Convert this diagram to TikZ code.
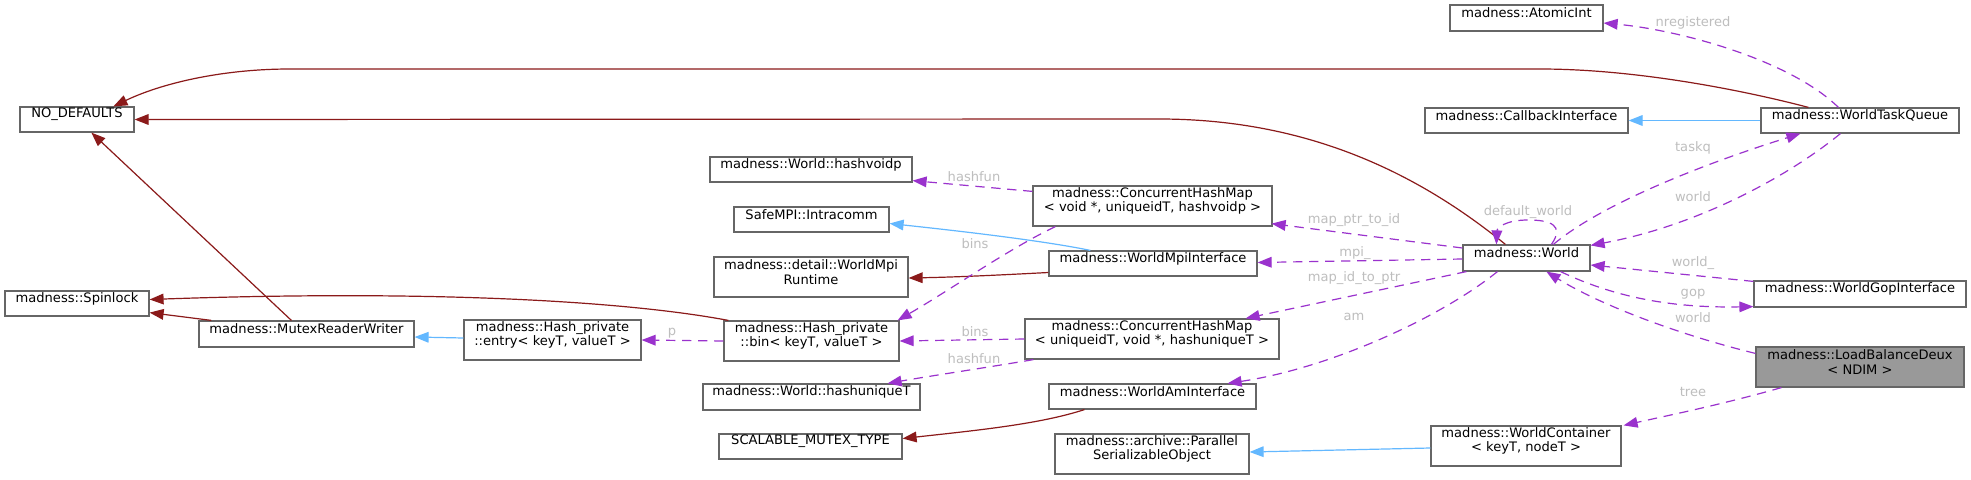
\documentclass[tikz,border=0pt]{standalone}
\usepackage{fontspec}
\setmainfont{DejaVu Sans}
\usetikzlibrary{arrows.meta,calc,fit}
\definecolor{inhred}{HTML}{8B1A1A}
\definecolor{inhblue}{HTML}{63B8FF}
\definecolor{usepurple}{HTML}{9A32CD}
\definecolor{labgray}{HTML}{BEBEBE}
\definecolor{bordergray}{HTML}{666666}
\definecolor{hlgray}{HTML}{999999}
\newcommand\nf{\fontsize{9.8}{11}\selectfont}
\begin{document}
\begin{tikzpicture}[x=0.75pt,y=-0.75pt,
  box/.style={draw=bordergray, line width=0.9pt, fill=white, inner sep=0pt, font=\nf, align=center},
  boxl/.style={box, align=left},
  tip/.style={-{Triangle[length=10.5pt,width=8pt]}},
  inhr/.style={draw=inhred, line width=0.9pt, tip},
  inhb/.style={draw=inhblue, line width=0.9pt, tip},
  uses/.style={draw=usepurple, line width=0.9pt, dash pattern=on 7pt off 5pt, tip},
  lab/.style={font=\nf, text=labgray, inner sep=0pt}]
\useasboundingbox[fill=white] (0,0) rectangle (1971,479);

% nodes
\node[box, fit={(1450,5) (1603,31)}] (atomic) {madness::AtomicInt};
\node[box, fit={(20,107) (134,132)}] (nodef) {NO\_DEFAULTS};
\node[box, fit={(1425,108) (1628,133)}] (callback) {madness::CallbackInterface};
\node[box, fit={(1761,108) (1959,133)}] (wtq) {madness::WorldTaskQueue};
\node[box, fit={(710,157) (912,182)}] (hashvoidp) {madness::World::hashvoidp};
\node[boxl, fit={(1033,186) (1272,226)}] (chmvoid) {madness::ConcurrentHashMap\\< void *, uniqueidT, hashvoidp >};
\node[box, fit={(734,207) (889,232)}] (intracomm) {SafeMPI::Intracomm};
\node[box, fit={(1463,245) (1590,271)}] (world) {madness::World};
\node[box, fit={(1049,251) (1257,276)}] (wmi) {madness::WorldMpiInterface};
\node[box, fit={(714,257) (908,297)}] (wmr) {madness::detail::WorldMpi\\Runtime};
\node[box, fit={(1754,281) (1966,307)}] (wgi) {madness::WorldGopInterface};
\node[box, fit={(5,291) (149,316)}] (spinlock) {madness::Spinlock};
\node[box, fit={(464,320) (641,360)}] (entry) {madness::Hash\_private\\::entry< keyT, valueT >};
\node[box, fit={(199,321) (414,347)}] (mrw) {madness::MutexReaderWriter};
\node[box, fit={(724,321) (899,361)}] (bin) {madness::Hash\_private\\::bin< keyT, valueT >};
\node[boxl, fit={(1025,319) (1279,359)}] (chmuniq) {madness::ConcurrentHashMap\\< uniqueidT, void *, hashuniqueT >};
\node[box, fill=hlgray, fit={(1756,347) (1964,387)}] (lbd) {madness::LoadBalanceDeux\\< NDIM >};
\node[box, fit={(703,384) (920,410)}] (hashuniq) {madness::World::hashuniqueT};
\node[box, fit={(1049,384) (1256,409)}] (wai) {madness::WorldAmInterface};
\node[box, fit={(719,434) (902,459)}] (smt) {SCALABLE\_MUTEX\_TYPE};
\node[box, fit={(1055,434) (1249,474)}] (pso) {madness::archive::Parallel\\SerializableObject};
\node[box, fit={(1431,426) (1621,466)}] (wc) {madness::WorldContainer\\< keyT, nodeT >};

% inheritance (red)
\draw[inhr] ($(wtq.north west)+(48,0)$) .. controls (1750,92) and (1640,69) .. (1540,69) -- (290,69) .. controls (220,69) and (160,84) .. ($(nodef.north west)+(94,0)$);
\draw[inhr] ($(world.north west)+(43,0)$) .. controls (1420,175) and (1310,119) .. (1159,119) -- (nodef.east);
\draw[inhr] ($(mrw.north west)+(93,0)$) -- ($(nodef.south west)+(72,0)$);
\draw[inhr] ($(mrw.north west)+(13,0)$) -- ($(spinlock.south east)+(0,-4)$);
\draw[inhr] ($(bin.north west)+(5,0)$) .. controls (620,300) and (420,290) .. ($(spinlock.east)+(0,-4)$);
\draw[inhr] ($(wmi.west)+(0,9)$) .. controls (1000,275) and (960,277) .. ($(wmr.east)+(0,1)$);
\draw[inhr] ($(wai.south west)+(36,0)$) .. controls (1040,424) and (980,430) .. ($(smt.east)+(0,-8)$);

% inheritance (blue)
\draw[inhb] (wtq.west) -- (callback.east);
\draw[inhb] ($(entry.west)+(0,-2)$) -- ($(mrw.east)+(0,3)$);
\draw[inhb] ($(wmi.north west)+(42,0)$) .. controls (1040,240) and (950,230) .. ($(intracomm.east)+(0,4)$);
\draw[inhb] ($(wc.west)+(0,2)$) -- ($(pso.east)+(0,-2)$);

% usage (purple dashed)
\draw[uses] (bin.west) -- (entry.east) node[lab, at={(672,333)}] {p};
\draw[uses] ($(chmvoid.north west)+(0,6)$) -- ($(hashvoidp.south east)+(0,-2)$) node[lab, at={(974,177)}] {hashfun};
\draw[uses] ($(chmvoid.south west)+(23,0)$) .. controls (1010,248) and (950,290) .. ($(bin.north east)+(-2,0)$) node[lab, at={(975,244)}] {bins};
\draw[uses] (chmuniq.west) -- (bin.east) node[lab, at={(975,332)}] {bins};
\draw[uses] ($(chmuniq.south west)+(9,0)$) .. controls (990,367) and (930,376) .. ($(hashuniq.north east)+(-33,0)$) node[lab, at={(974,359)}] {hashfun};
\draw[uses] ($(world.west)+(0,-10)$) -- ($(chmvoid.south east)+(-1,-3)$) node[lab, at={(1354,220)}] {map\_ptr\_to\_id};
\draw[uses] ($(world.west)+(0,1)$) -- ($(wmi.east)+(0,-1)$) node[lab, at={(1355,253)}] {mpi\_};
\draw[uses] ($(world.south west)+(4,0)$) -- ($(chmuniq.north east)+(-34,0)$) node[lab, at={(1354,278)}] {map\_id\_to\_ptr};
\draw[uses] ($(world.south west)+(35,0)$) .. controls (1440,318) and (1330,368) .. ($(wai.north east)+(-29,0)$) node[lab, at={(1354,317)}] {am};
\draw[uses] ($(world.north west)+(89,0)$) .. controls (1565,225) and (1550,220) .. (1528,220) .. controls (1505,220) and (1497,228) .. ($(world.north west)+(34,0)$) node[lab, at={(1528,212)}] {default\_world};
\draw[uses] ($(world.north west)+(91,0)$) .. controls (1600,205) and (1700,165) .. ($(wtq.south west)+(40,0)$) node[lab, at={(1693,148)}] {taskq};
\draw[uses] ($(wtq.south west)+(80,0)$) .. controls (1790,175) and (1700,225) .. ($(world.north east)+(0,1)$) node[lab, at={(1693,197)}] {world};
\draw[uses] ($(wtq.north west)+(78,0)$) .. controls (1790,60) and (1680,30) .. ($(atomic.east)+(0,5)$) node[lab, at={(1693,23)}] {nregistered};
\draw[uses] ($(wgi.north west)+(0,1)$) -- ($(world.east)+(0,7)$) node[lab, at={(1693,263)}] {world\_};
\draw[uses] ($(world.south east)+(-30,0)$) .. controls (1620,300) and (1680,308) .. ($(wgi.south west)+(0,-1)$) node[lab, at={(1693,294)}] {gop};
\draw[uses] ($(lbd.north west)+(0,7)$) .. controls (1680,335) and (1600,305) .. ($(world.south west)+(84,0)$) node[lab, at={(1693,318)}] {world};
\draw[uses] ($(lbd.south west)+(26,0)$) .. controls (1720,405) and (1670,415) .. ($(wc.north east)+(2,0)$) node[lab, at={(1693,392)}] {tree};
\end{tikzpicture}
\end{document}
